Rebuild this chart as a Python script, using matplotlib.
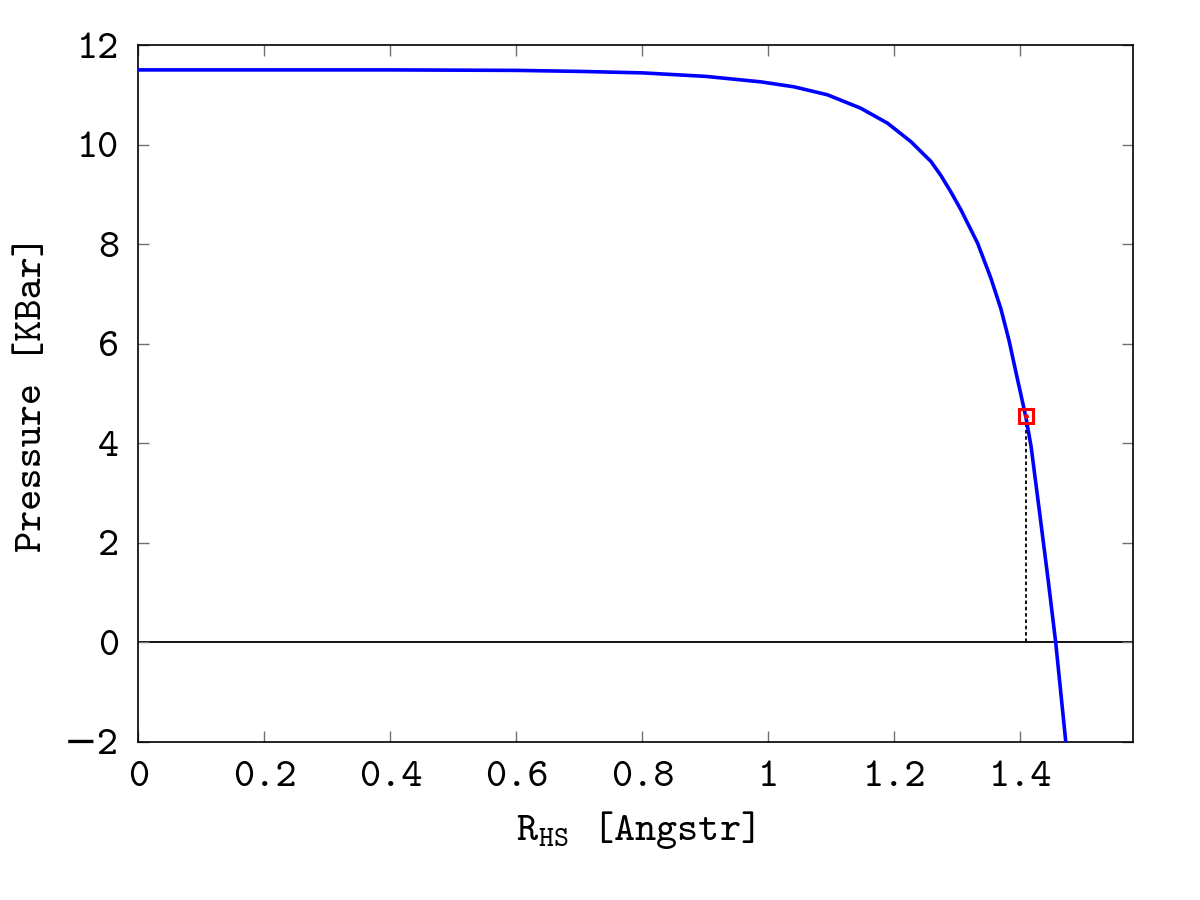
import matplotlib
matplotlib.use('Agg')
import matplotlib.pyplot as plt

# pressure vs hard-sphere radius
r_hs = [0.0, 0.2, 0.4, 0.6, 0.7, 0.8, 0.9, 0.9877, 1.0405, 1.0936, 1.1465,
        1.189, 1.226, 1.258, 1.2737, 1.29, 1.3055, 1.332, 1.353, 1.369,
        1.382, 1.393, 1.4035, 1.409, 1.417, 1.431, 1.444, 1.456, 1.472]
pressure = [11.50, 11.50, 11.50, 11.49, 11.47, 11.44, 11.37, 11.26, 11.16,
            11.00, 10.73, 10.43, 10.06, 9.66, 9.38, 9.04, 8.69, 8.02, 7.32,
            6.70, 6.06, 5.42, 4.82, 4.50, 3.93, 2.55, 1.255, 0.0, -2.0]

# selected point
sel_r = 1.409
sel_p = 4.555

xticks = [0, 0.2, 0.4, 0.6, 0.8, 1.0, 1.2, 1.4]
xticklabels = ['0', '0.2', '0.4', '0.6', '0.8', '1', '1.2', '1.4']
yticks = [-2, 0, 2, 4, 6, 8, 10, 12]

plt.rcParams['font.family'] = ['cmtt10', 'DejaVu Sans']
plt.rcParams['mathtext.fontset'] = 'custom'
plt.rcParams['mathtext.rm'] = 'cmtt10'
plt.rcParams['mathtext.it'] = 'cmtt10'

fig = plt.figure(figsize=(12, 9), dpi=100)
ax = fig.add_axes([0.1154, 0.1756, 0.8284, 0.7744])

ax.axhline(0, color='black', lw=1.3, zorder=1)
ax.plot([sel_r, sel_r], [0, sel_p], color='black', lw=1.3, ls=(0, (2, 1.5)), zorder=2)
ax.plot(r_hs, pressure, color='#0000ff', lw=2.6, zorder=3)
ax.plot([sel_r], [sel_p], marker='s', ms=10, mfc='none', mec='#ff0000', mew=2.2, zorder=4)
ax.plot([sel_r], [sel_p], marker='o', ms=2.5, color='#ff0000', zorder=4)

ax.set_xlim(0, 1.578)
ax.set_ylim(-2, 12)
ax.set_xticks(xticks)
ax.set_xticklabels(xticklabels)
ax.set_yticks(yticks)

ax.tick_params(direction='in', length=8, width=1, color='#707070',
               top=True, right=True, labelsize=29, pad=14)
for s in ax.spines.values():
    s.set_linewidth(1.2)
    s.set_color('black')

ax.set_xlabel(r'R$_{\mathrm{HS}}$ [Angstr]', fontsize=29, labelpad=10)
ax.set_ylabel('Pressure [KBar]', fontsize=29, labelpad=10)

plt.savefig('out.png', dpi=100)
